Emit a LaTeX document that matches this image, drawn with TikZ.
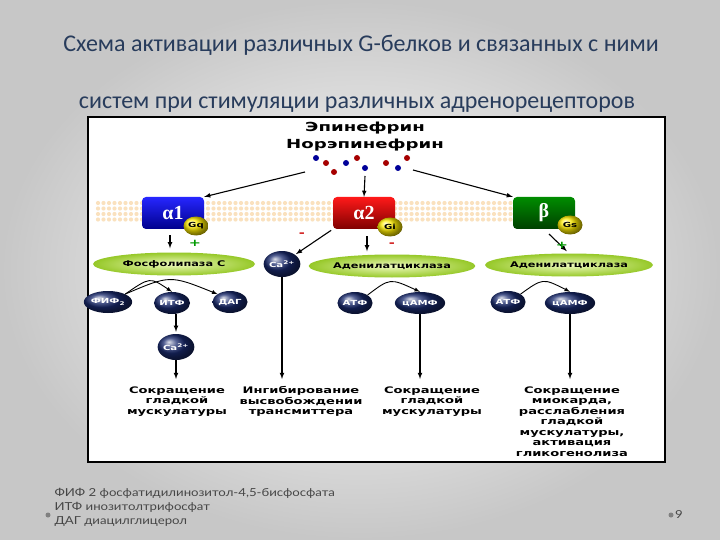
\documentclass[tikz,border=0pt]{standalone}
\usepackage{fontspec}
\setmainfont{Carlito}
\newfontfamily\heavy[FakeStretch=1.45]{DejaVu Sans}
\newfontfamily\greekfont{Liberation Serif}
\newfontfamily\notefont[FakeStretch=1.2]{Lato}
\usetikzlibrary{shapes.geometric}
\definecolor{titleblue}{RGB}{40,60,92}
\definecolor{navy}{RGB}{25,42,110}
\definecolor{limeedge}{RGB}{150,200,40}
\definecolor{limein}{RGB}{238,250,190}
\definecolor{lipid}{RGB}{250,225,190}
\definecolor{notegray}{RGB}{70,70,70}
\tikzset{
  recbox/.style={rounded corners=4pt, minimum width=62pt, minimum height=32pt,
    text=white, font=\greekfont\bfseries\fontsize{20}{20}\selectfont},
  gprot/.style={ellipse, shading=ball, ball color=yellow!85!orange, inner sep=0pt,
    minimum width=25pt, minimum height=19pt, font=\heavy\bfseries\fontsize{7}{7}\selectfont},
  enzyme/.style={ellipse, inner color=limein, outer color=limeedge, inner sep=0pt,
    minimum height=23pt, font=\heavy\bfseries\fontsize{7.8}{8}\selectfont},
  messenger/.style={ellipse, shading=ball, ball color=navy, text=white, inner sep=0pt,
    minimum width=35pt, minimum height=22pt, font=\heavy\bfseries\fontsize{7}{7}\selectfont},
  effect/.style={align=center, anchor=north, font=\heavy\bfseries\fontsize{9}{10.5}\selectfont},
  sig/.style={-latex, line width=1.1pt},
  plus/.style={text=green!60!black, font=\heavy\bfseries\fontsize{10}{10}\selectfont},
  minus/.style={text=red!80!black, font=\heavy\bfseries\fontsize{10}{10}\selectfont},
}
\begin{document}
\begin{tikzpicture}[x=1pt,y=-1pt]
\useasboundingbox (0,0) rectangle (720,540);
\shade[inner color=white, outer color=black!22] (0,0) rectangle (720,540);

\node[text=titleblue, font=\fontsize{24}{24}\selectfont] (title1) at (361,45) {Схема активации различных G-белков и связанных с ними};
\node[text=titleblue, font=\fontsize{24}{24}\selectfont] (title2) at (357,105) {систем при стимуляции различных адренорецепторов};

\draw[line width=1.3pt, fill=white] (88,117) rectangle (665,462);

\node[font=\heavy\bfseries\fontsize{12.5}{13}\selectfont] (epi) at (365,128) {Эпинефрин};
\node[font=\heavy\bfseries\fontsize{12.5}{13}\selectfont] (norepi) at (365,145) {Норэпинефрин};

\fill[blue!60!black] (316,158) circle (3pt);
\fill[red!65!black] (326,163) circle (3pt);
\fill[blue!60!black] (346,163) circle (3pt);
\fill[red!65!black] (357,158) circle (3pt);
\fill[red!65!black] (334,172) circle (3pt);
\fill[blue!60!black] (365,168) circle (3pt);
\fill[red!65!black] (386,163) circle (3pt);
\fill[red!65!black] (407,158) circle (3pt);
\fill[blue!60!black] (398,168) circle (3pt);

\foreach \x in {98,103.5,...,558} {
  \foreach \y in {203,208.5,214,219.5} {
    \fill[lipid] (\x,\y) circle (2.1pt);
  }
}

\node[recbox, top color=blue!85, bottom color=blue!55!black] (a1) at (173,213) {α1};
\node[recbox, top color=red!90, bottom color=red!50!black] (a2) at (364,213) {α2};
\node[recbox, top color=green!55!black, bottom color=green!25!black] (b) at (544,213) {β};
\node[gprot] (gq) at (196,226) {Gq};
\node[gprot] (gi) at (390,227) {Gi};
\node[gprot] (gs) at (570,225) {Gs};

\coordinate (srcl) at (305,172);
\coordinate (srcm) at (365,176);
\coordinate (srcr) at (413,170);
\draw[sig] (srcl) -- (a1.north east);
\draw[sig] (srcm) -- (a2.north);
\draw[sig] (srcr) -- (b.north west);

\node[enzyme, minimum width=162pt] (plc) at (174,264) {Фосфолипаза С};
\node[messenger, minimum width=28pt, minimum height=26pt] (ca1) at (282,264) {Ca\textsuperscript{2+}};
\node[enzyme, minimum width=163pt] (ac1) at (392,266) {Аденилатциклаза};
\node[enzyme, minimum width=168pt] (ac2) at (569,265) {Аденилатциклаза};

\draw[sig, shorten <=6pt, shorten >=4pt] (a1.south -| 170,0) -- (plc.north -| 170,0);
\draw[sig, shorten <=7pt, shorten >=3pt] (a2.south -| 367,0) -- (ac1.north -| 367,0);
\draw[sig, shorten <=7pt, shorten >=3pt] (b.south) -- (ac2.north);
\draw[sig, shorten <=2pt, shorten >=1pt] (a2.south west) -- (ca1.north east);
\node[plus] (p1) at (195,243) {+};
\node[minus] (m1) at (302,235) {-};
\node[minus] (m2) at (392,245) {-};
\node[plus] (p2) at (562,245) {+};

\node[messenger] (fif) at (108,302) {ФИФ\textsubscript{2}};
\node[messenger] (itf) at (172,303) {ИТФ};
\node[messenger] (dag) at (230,302) {ДАГ};
\node[messenger] (atf1) at (355,303) {АТФ};
\node[messenger] (camp1) at (420,303) {цАМФ};
\node[messenger] (atf2) at (508,302) {АТФ};
\node[messenger] (camp2) at (570,303) {цАМФ};

\draw[sig, line width=0.9pt] (fif.north east) .. controls (150,277) .. (itf.north);
\draw[sig, line width=0.9pt] (fif.north east) .. controls (170,275) .. (dag.north west);
\draw[sig, line width=0.9pt] (atf1.north east) .. controls (390,278) .. (camp1.north);
\draw[sig, line width=0.9pt] (atf2.north east) .. controls (543,278) .. (camp2.north);

\node[messenger, minimum width=32pt, minimum height=26pt] (ca2) at (176,347) {Ca\textsuperscript{2+}};
\draw[sig, shorten >=2pt] (itf.south -| ca2) -- (ca2.north);

\node[effect] (t1) at (177,383) {Сокращение\\гладкой\\мускулатуры};
\node[effect] (t2) at (301,383) {Ингибирование\\высвобождении\\трансмиттера};
\node[effect] (t3) at (432,383) {Сокращение\\гладкой\\мускулатуры};
\node[effect] (t4) at (572,383) {Сокращение\\миокарда,\\расслабления\\гладкой\\мускулатуры,\\активация\\гликогенолиза};

\draw[sig, shorten >=4pt] (ca2.south) -- (ca2.south |- t1.north);
\draw[sig, shorten >=4pt] (ca1.south) -- (ca1.south |- t2.north);
\draw[sig, shorten >=4pt] (camp1.south) -- (camp1.south |- t3.north);
\draw[sig, shorten >=4pt] (camp2.south) -- (camp2.south |- t4.north);

\node[anchor=west, align=left, text=notegray, font=\notefont\fontsize{11}{14}\selectfont] (notes) at (51,507) {ФИФ 2 фосфатидилинозитол-4,5-бисфосфата\\ИТФ инозитолтрифосфат\\ДАГ диацилглицерол};
\fill[gray] (48,515) circle (2.5pt);
\fill[gray] (671,515) circle (2.5pt);
\node[text=notegray, font=\notefont\fontsize{11}{11}\selectfont] (page) at (679,515) {9};
\end{tikzpicture}
\end{document}
